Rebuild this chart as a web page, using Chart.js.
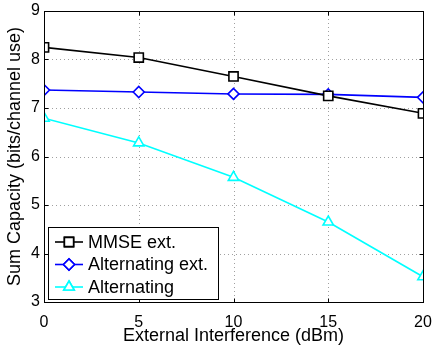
<!DOCTYPE html>
<html>
<head>
<meta charset="utf-8">
<script src="https://cdn.jsdelivr.net/npm/chart.js@4/dist/chart.umd.min.js"></script>
<style>
html,body{margin:0;padding:0;background:#fff;}
#wrap{width:432px;height:351px;position:relative;}
</style>
</head>
<body>
<div id="wrap"><canvas id="c" width="432" height="351"></canvas></div>
<script>
const interference = [0, 5, 10, 15, 20];
const mmseExt = [8.25, 8.04, 7.65, 7.25, 6.89];
const altExt = [7.37, 7.33, 7.29, 7.28, 7.22];
const alternating = [6.79, 6.28, 5.57, 4.65, 3.52];
const seriesNames = ['MMSE ext.', 'Alternating ext.', 'Alternating'];
const xTicks = [0, 5, 10, 15, 20];
const yTicks = [3, 4, 5, 6, 7, 8, 9];

const FONT = '"Liberation Sans", Arial, Helvetica, sans-serif';

const frame = {
  id: 'frame',
  beforeDatasetsDraw(chart) {
    const {ctx, chartArea: a, scales} = chart;
    ctx.save();
    ctx.strokeStyle = '#a0a0a0';
    ctx.lineWidth = 1;
    ctx.setLineDash([1, 3]);
    xTicks.forEach(v => {
      if (v === xTicks[0] || v === xTicks[xTicks.length - 1]) return;
      const x = Math.round(scales.x.getPixelForValue(v)) + 0.5;
      ctx.beginPath(); ctx.moveTo(x, a.top); ctx.lineTo(x, a.bottom); ctx.stroke();
    });
    yTicks.forEach(v => {
      if (v === yTicks[0] || v === yTicks[yTicks.length - 1]) return;
      const y = Math.round(scales.y.getPixelForValue(v)) + 0.5;
      ctx.beginPath(); ctx.moveTo(a.left, y); ctx.lineTo(a.right, y); ctx.stroke();
    });
    ctx.restore();
  },
  afterDatasetsDraw(chart) {
    const {ctx, chartArea: a, scales} = chart;
    ctx.save();
    ctx.strokeStyle = '#000';
    ctx.lineWidth = 1;
    ctx.setLineDash([]);
    const L = Math.round(a.left) + 0.5, R = Math.round(a.right) + 0.5;
    const T = Math.round(a.top) + 0.5, B = Math.round(a.bottom) + 0.5;
    ctx.strokeRect(L, T, R - L, B - T);
    const tl = 4;
    xTicks.forEach(v => {
      const x = Math.round(scales.x.getPixelForValue(v)) + 0.5;
      ctx.beginPath();
      ctx.moveTo(x, B); ctx.lineTo(x, B - tl);
      ctx.moveTo(x, T); ctx.lineTo(x, T + tl);
      ctx.stroke();
    });
    yTicks.forEach(v => {
      const y = Math.round(scales.y.getPixelForValue(v)) + 0.5;
      ctx.beginPath();
      ctx.moveTo(L, y); ctx.lineTo(L + tl, y);
      ctx.moveTo(R, y); ctx.lineTo(R - tl, y);
      ctx.stroke();
    });

    // legend
    const lx = 48.5, ly = 227.5, lw = 170, lh = 72;
    ctx.fillStyle = '#fff';
    ctx.fillRect(lx, ly, lw, lh);
    ctx.strokeRect(lx, ly, lw, lh);
    const rows = [242, 264.5, 287];
    ctx.font = '18px ' + FONT;
    ctx.textBaseline = 'middle';
    ctx.textAlign = 'left';
    chart.data.datasets.forEach((ds, i) => {
      const y = rows[i];
      ctx.strokeStyle = ds.borderColor;
      ctx.lineWidth = ds.borderWidth;
      ctx.beginPath(); ctx.moveTo(55, y); ctx.lineTo(83, y); ctx.stroke();
      ctx.fillStyle = '#fff';
      ctx.strokeStyle = ds.pointBorderColor;
      ctx.lineWidth = ds.pointBorderWidth;
      Chart.helpers.drawPoint(ctx, {pointStyle: ds.pointStyle, radius: ds.pointRadius, rotation: 0, borderWidth: ds.pointBorderWidth}, 69, y);
      ctx.fill(); ctx.stroke();
      ctx.fillStyle = '#000';
      ctx.fillText(ds.label, 88, y + 1);
    });
    ctx.restore();
  }
};

const mk = (label, data, color, style, r) => ({
  label, data,
  borderColor: color, borderWidth: 1.6,
  pointStyle: style, pointRadius: r, pointHoverRadius: r,
  pointBackgroundColor: '#fff', pointBorderColor: color, pointBorderWidth: 1.6,
  tension: 0, fill: false
});

new Chart(document.getElementById('c'), {
  type: 'line',
  data: {
    labels: interference,
    datasets: [
      mk(seriesNames[0], mmseExt, '#000000', 'rect', 6.5),
      mk(seriesNames[1], altExt, '#0000ff', 'rectRot', 5.5),
      mk(seriesNames[2], alternating, '#00ffff', 'triangle', 6)
    ].map(d => ({...d, data: d.data.map((v, i) => ({x: interference[i], y: v}))}))
  },
  options: {
    responsive: false,
    animation: false,
    devicePixelRatio: 1,
    layout: {padding: {left: 0, top: 0, right: 0, bottom: 0}},
    plugins: {legend: {display: false}, tooltip: {enabled: false}},
    scales: {
      x: {
        type: 'linear', min: 0, max: 20,
        afterBuildTicks: s => { s.ticks = xTicks.map(v => ({value: v})); },
        afterFit: s => { s.height = 49; s.paddingRight = 9; s.paddingLeft = 0; },
        grid: {display: false, drawTicks: false},
        border: {display: false},
        ticks: {color: '#000', font: {family: FONT, size: 16}, padding: 11, maxRotation: 0},
        title: {display: true, text: 'External Interference (dBm)', color: '#000', font: {family: FONT, size: 18}, padding: {top: 0, bottom: 4}}
      },
      y: {
        type: 'linear', min: 3, max: 9,
        afterBuildTicks: s => { s.ticks = yTicks.map(v => ({value: v})); },
        afterFit: s => { s.width = 44; s.paddingTop = 11; s.paddingBottom = 0; },
        grid: {display: false, drawTicks: false},
        border: {display: false},
        ticks: {color: '#000', font: {family: FONT, size: 16}, padding: 4},
        title: {display: true, text: 'Sum Capacity (bits/channel use)', color: '#000', font: {family: FONT, size: 18}, padding: {top: 4, bottom: 0}}
      }
    }
  },
  plugins: [frame]
});
</script>
</body>
</html>
